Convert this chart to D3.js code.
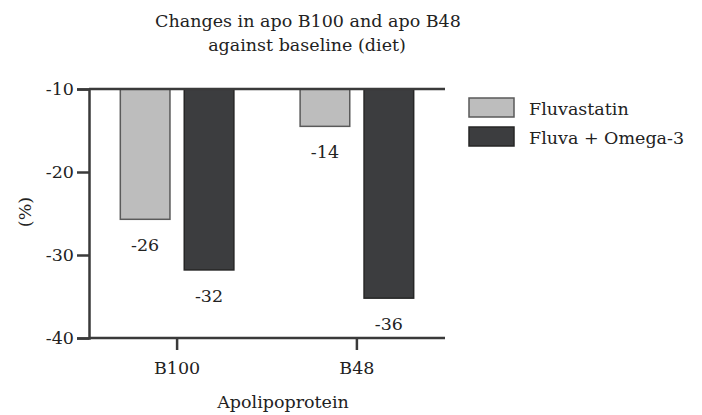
<!DOCTYPE html>
<html>
<head>
<meta charset="utf-8">
<script src="https://cdn.jsdelivr.net/npm/d3@7"></script>
<style>
  body { margin: 0; background: #fff; }
  svg text { font-family: "DejaVu Serif", serif; fill: #222; }
</style>
</head>
<body>
<svg></svg>
<script>
const w = 702;
const h = 415;

// data
const categories = ['B100', 'B48'];
const series = ['Fluvastatin', 'Fluva + Omega-3'];
const fluvastatin = [-25.7, -14.5];
const fluvaOmega = [-31.8, -35.2];
const fluvastatinLabels = ['-26', '-14'];
const fluvaOmegaLabels = ['-32', '-36'];
const yTicks = [-10, -20, -30, -40];

const colors = ['#bdbdbd', '#3c3d3f'];
const strokes = ['#5a5a5a', '#262626'];

const rows = categories.map((c, i) => ({
    cat: c,
    vals: [
        { s: 0, v: fluvastatin[i], label: fluvastatinLabels[i] },
        { s: 1, v: fluvaOmega[i], label: fluvaOmegaLabels[i] }
    ]
}));

const pLeft = 89, pRight = 445, pTop = 89, pBottom = 338;
const fs = '17.5px';

const svg = d3.select('svg')
    .attr('width', w)
    .attr('height', h);

// scales
const x0 = d3.scaleBand()
    .domain(categories)
    .range([pLeft, pRight])
    .paddingInner(0.36)
    .paddingOuter(0.17);

const x1 = d3.scaleBand()
    .domain(d3.range(series.length))
    .range([0, x0.bandwidth()])
    .paddingInner(0.2);

const y = d3.scaleLinear()
    .domain([-10, -40])
    .range([pTop, pBottom]);

// bars
const groups = svg.selectAll('g.grp')
    .data(rows)
    .enter()
    .append('g')
    .attr('class', 'grp')
    .attr('transform', d => 'translate(' + x0(d.cat) + ',0)');

groups.selectAll('rect')
    .data(d => d.vals)
    .enter()
    .append('rect')
    .attr('x', d => x1(d.s) + 0.75)
    .attr('y', y(-10))
    .attr('width', x1.bandwidth() - 1.5)
    .attr('height', d => y(d.v) - y(-10))
    .attr('fill', d => colors[d.s])
    .attr('stroke', d => strokes[d.s])
    .attr('stroke-width', 1.5);

groups.selectAll('text.val')
    .data(d => d.vals)
    .enter()
    .append('text')
    .attr('class', 'val')
    .attr('x', d => x1(d.s) + x1.bandwidth() / 2)
    .attr('y', d => y(d.v) + 32)
    .attr('text-anchor', 'middle')
    .style('font-size', fs)
    .text(d => d.label);

// y-axis
const yAxis = d3.axisLeft(y)
    .tickValues(yTicks)
    .tickFormat(d => '-' + Math.abs(d))
    .tickSize(12)
    .tickPadding(3);

const yg = svg.append('g')
    .attr('transform', 'translate(' + pLeft + ',0)')
    .call(yAxis);

// x-axis
const xAxis = d3.axisBottom(x0)
    .tickSize(12)
    .tickSizeOuter(0)
    .tickPadding(12);

const xg = svg.append('g')
    .attr('transform', 'translate(0,' + pBottom + ')')
    .call(xAxis);

// top line at -10
svg.append('line')
    .attr('x1', pLeft)
    .attr('x2', pRight)
    .attr('y1', y(-10))
    .attr('y2', y(-10))
    .attr('stroke', '#3a3a3a')
    .attr('stroke-width', 2.5);

[yg, xg].forEach(g => {
    g.select('.domain').attr('stroke', '#3a3a3a').attr('stroke-width', 2.5);
    g.selectAll('.tick line').attr('stroke', '#3a3a3a').attr('stroke-width', 2.5);
    g.selectAll('.tick text')
        .style('font-family', '"DejaVu Serif", serif')
        .style('font-size', fs)
        .attr('fill', '#222');
});
xg.select('.domain').attr('d', 'M' + pLeft + ',0H' + pRight);

// title
svg.append('text')
    .attr('x', 308)
    .attr('y', 26.5)
    .attr('text-anchor', 'middle')
    .style('font-size', fs)
    .text('Changes in apo B100 and apo B48');
svg.append('text')
    .attr('x', 307)
    .attr('y', 51)
    .attr('text-anchor', 'middle')
    .style('font-size', fs)
    .text('against baseline (diet)');

// axis titles
svg.append('text')
    .attr('x', 283)
    .attr('y', 408)
    .attr('text-anchor', 'middle')
    .style('font-size', fs)
    .text('Apolipoprotein');

svg.append('text')
    .attr('transform', 'translate(31,212) rotate(-90)')
    .attr('text-anchor', 'middle')
    .style('font-size', fs)
    .text('(%)');

// legend
const legend = svg.selectAll('g.leg')
    .data(series)
    .enter()
    .append('g')
    .attr('class', 'leg')
    .attr('transform', (d, i) => 'translate(469,' + (98 + i * 29) + ')');

legend.append('rect')
    .attr('width', 45)
    .attr('height', 19)
    .attr('fill', (d, i) => colors[i])
    .attr('stroke', (d, i) => strokes[i])
    .attr('stroke-width', 1.5);

legend.append('text')
    .attr('x', 60)
    .attr('y', 17)
    .style('font-size', fs)
    .text(d => d);
</script>
</body>
</html>
